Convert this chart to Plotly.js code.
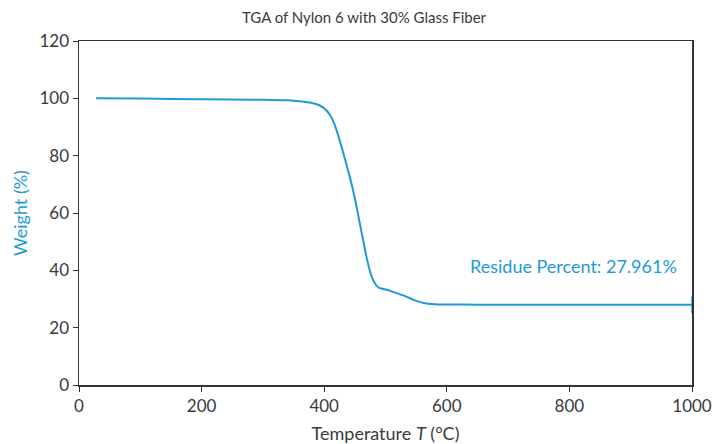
<!DOCTYPE html>
<html><head><meta charset="utf-8">
<script src="https://cdn.plot.ly/plotly-3.0.1.min.js"></script>
<style>html,body{margin:0;padding:0;background:#fff}#c{width:728px;height:444px}</style>
</head><body><div id="c"></div>
<script>
const temperature = [28, 100, 200, 300, 340, 360, 380, 393, 405, 414, 423, 431, 440, 447, 453, 458, 464, 469, 475, 480, 486, 491, 500, 512, 530, 545, 557, 567, 580, 600, 650, 700, 800, 900, 1000];
const weight = [100, 99.9, 99.7, 99.5, 99.3, 99.0, 98.4, 97.5, 95.5, 92.4, 87, 81, 74, 68, 62, 56.5, 50, 44.6, 39.5, 36.5, 34.5, 33.8, 33.3, 32.5, 31.2, 29.8, 28.9, 28.4, 28.2, 28.1, 28.0, 28.0, 27.97, 27.96, 27.961];
const residueLabel = "Residue Percent: 27.961%";
const endT = [1000], endW = [27.961];
const blue = '#1f9ad6';
const font = 'Lato, "Open Sans", sans-serif';
Plotly.newPlot('c', [
  {x: temperature, y: weight, mode: 'lines', line: {color: blue, width: 2, shape: 'spline', smoothing: 0.6}, hoverinfo: 'skip', cliponaxis: false},
  {x: endT, y: endW, mode: 'markers', marker: {symbol: 'line-ns', size: 12, line: {color: blue, width: 1.5}}, hoverinfo: 'skip', cliponaxis: false}
], {
  width: 728, height: 444,
  margin: {l: 79, r: 36, t: 41, b: 59},
  showlegend: false,
  font: {family: font, color: '#3a3a3a', size: 17},
  title: {text: 'TGA of Nylon 6 with 30% Glass Fiber', x: 0.5, xanchor: 'center', y: 0.96, yanchor: 'middle', font: {size: 15, color: '#3a3a3a'}},
  xaxis: {range: [0, 1000], dtick: 200, showgrid: false, zeroline: false, showline: true, mirror: true, linecolor: '#333', linewidth: 1.5, ticks: 'outside', ticklen: 5, tickcolor: '#333', tickfont: {size: 17},
    title: {text: 'Temperature <i>T</i> (°C)', standoff: 12, font: {size: 18, color: '#3a3a3a'}}},
  yaxis: {range: [0, 120], dtick: 20, showgrid: false, zeroline: false, showline: true, mirror: true, linecolor: '#333', linewidth: 1.5, ticks: 'outside', ticklen: 5, tickcolor: '#333', tickfont: {size: 17},
    title: {text: 'Weight (%)', standoff: 7, font: {size: 18, color: blue}}},
  annotations: [{x: 978, y: 41.5, xref: 'x', yref: 'y', xanchor: 'right', yanchor: 'middle', text: residueLabel, showarrow: false, font: {size: 18, color: blue}}],
  plot_bgcolor: '#fff', paper_bgcolor: '#fff'
}, {displayModeBar: false, staticPlot: true});
</script></body></html>
